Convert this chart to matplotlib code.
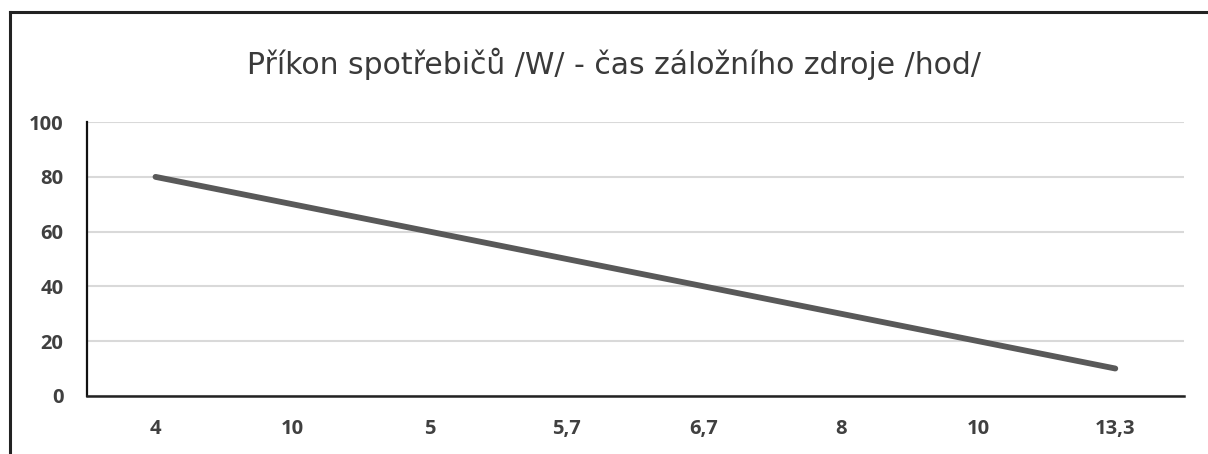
import matplotlib.pyplot as plt
from matplotlib.lines import Line2D

# data
categories = ['4', '10', '5', '5,7', '6,7', '8', '10', '13,3']
prikon = [80, 70, 60, 50, 40, 30, 20, 10]
y_ticks = [0, 20, 40, 60, 80, 100]

plt.rcParams['font.family'] = ['Open Sans', 'DejaVu Sans']

fig = plt.figure(figsize=(12.08, 4.54), dpi=100)
ax = fig.add_axes([0.072, 0.128, 0.908, 0.603])

x = list(range(len(categories)))
ax.plot(x, prikon, color='#595959', linewidth=4.2, solid_capstyle='round', zorder=3)

ax.set_xlim(-0.5, len(categories) - 0.5)
ax.set_ylim(0, 100)
ax.set_yticks(y_ticks)
ax.set_xticks(x)
ax.set_xticklabels(categories)
ax.grid(axis='y', color='#d9d9d9', linewidth=1.5)
ax.set_axisbelow(True)

for s in ['top', 'right']:
    ax.spines[s].set_visible(False)
ax.spines['left'].set_linewidth(1.6)
ax.spines['bottom'].set_linewidth(1.8)
ax.spines['left'].set_color('#111111')
ax.spines['bottom'].set_color('#222222')
ax.tick_params(length=0, labelsize=14.5, labelcolor='#404040')
ax.tick_params(axis='y', pad=17)
ax.tick_params(axis='x', pad=17)
for lab in ax.get_xticklabels() + ax.get_yticklabels():
    lab.set_fontweight('bold')

fig.text(0.508, 0.86, 'Příkon spotřebičů /W/ - čas záložního zdroje /hod/',
         ha='center', va='center', fontsize=21.5, color='#3a3a3a',
         family=['DejaVu Sans'])

# frame of the screenshot (top and left edges)
fig.add_artist(Line2D([0.0085, 0.0085], [0.0, 0.974], transform=fig.transFigure,
                      color='#222222', linewidth=2.2))
fig.add_artist(Line2D([0.0085, 1.0], [0.974, 0.974], transform=fig.transFigure,
                      color='#222222', linewidth=2.2))

fig.savefig('out.png', dpi=100)
